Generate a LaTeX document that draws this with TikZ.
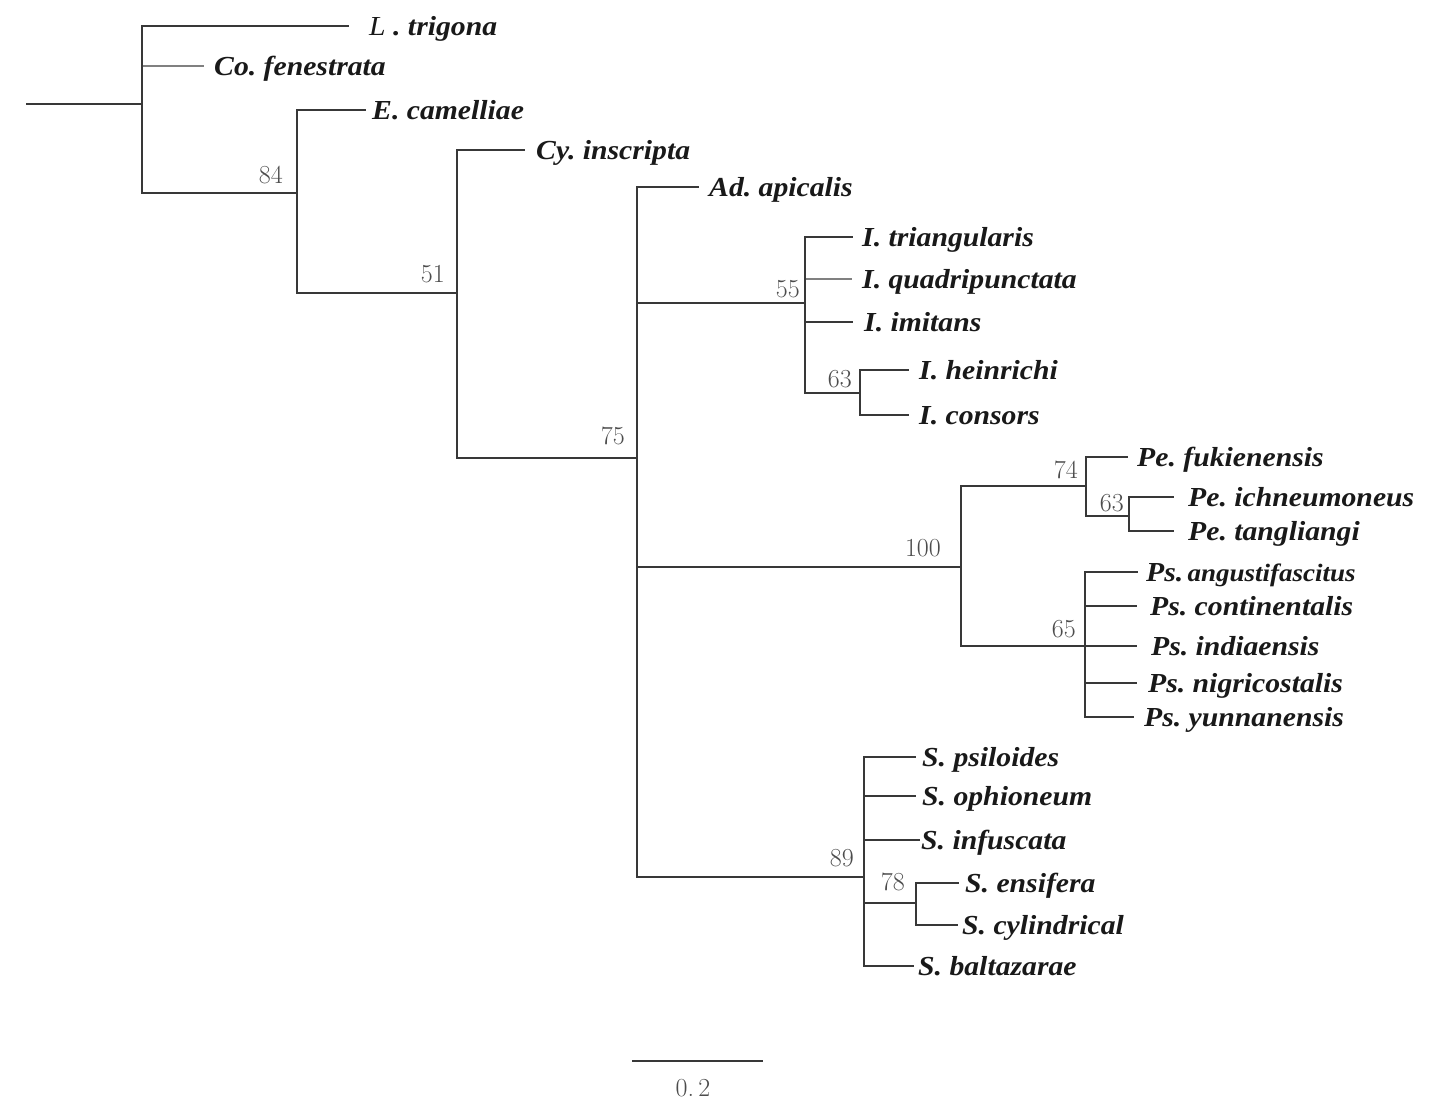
\documentclass[tikz,border=0pt]{standalone}
\usepackage{fontspec}
\newfontfamily\labfont[FakeStretch=1.08]{Liberation Serif}
\frenchspacing
\begin{document}
\begin{tikzpicture}[x=1pt,y=-1pt,
  br/.style={draw=black!78, line width=2.1pt, line cap=rect},
  lightbr/.style={draw=black!50, line width=1.2pt},
  leaf/.style={anchor=west, inner ysep=0pt, inner xsep=10pt, text height=18.2pt, text depth=0pt,
    font=\labfont\fontsize{27.5}{30}\selectfont\bfseries\itshape, text=black!90},
  bs/.style={anchor=south east, inner sep=0pt, text=black!70, font=\fontsize{26}{28}\selectfont}]
\useasboundingbox (0,0) rectangle (1451,1114);
% internal nodes
\coordinate (root) at (27,104);
\coordinate (A) at (142,104);
\coordinate (B) at (297,193);
\coordinate (C) at (457,293);
\coordinate (D) at (637,458);
\coordinate (I) at (805,303);
\coordinate (I2) at (860,393);
\coordinate (P) at (961,567);
\coordinate (Pe) at (1086,486);
\coordinate (Pe2) at (1129,516);
\coordinate (Ps) at (1085,646);
\coordinate (S) at (864,877);
\coordinate (S2) at (916,903);
% leaves
\node[leaf, inner xsep=21pt] (Ltri) at (348,26) {{\mdseries L} . trigona};
\node[leaf] (Cofen) at (204,66) {Co. fenestrata};
\node[leaf, inner xsep=7pt] (Ecam) at (365,110) {E. camelliae};
\node[leaf, inner xsep=12pt] (Cyins) at (524,150) {Cy. inscripta};
\node[leaf, inner xsep=11pt] (Adapi) at (698,187) {Ad. apicalis};
\node[leaf, inner xsep=10pt] (Itri) at (852,237) {I. triangularis};
\node[leaf, inner xsep=10pt] (Iqua) at (852,279) {I. quadripunctata};
\node[leaf, inner xsep=12pt] (Iimi) at (852,322) {I. imitans};
\node[leaf, inner xsep=11pt] (Ihei) at (908,370) {I. heinrichi};
\node[leaf, inner xsep=11pt] (Icon) at (908,415) {I. consors};
\node[leaf, inner xsep=10pt] (Pefuk) at (1127,457) {Pe. fukienensis};
\node[leaf, inner xsep=15pt] (Peich) at (1173,497) {Pe. ichneumoneus};
\node[leaf, inner xsep=15pt] (Petan) at (1173,531) {Pe. tangliangi};
\node[leaf, inner xsep=9pt] (Psang) at (1137,572) {Ps.{\fontsize{25}{28}\selectfont\,angustifascitus}};
\node[leaf, inner xsep=14pt] (Pscon) at (1136,606) {Ps. continentalis};
\node[leaf, inner xsep=15pt] (Psind) at (1136,646) {Ps. indiaensis};
\node[leaf, inner xsep=12pt] (Psnig) at (1136,683) {Ps. nigricostalis};
\node[leaf, inner xsep=11pt] (Psyun) at (1133,717) {Ps. yunnanensis};
\node[leaf, inner xsep=7pt] (Spsi) at (915,757) {S. psiloides};
\node[leaf, inner xsep=7pt] (Soph) at (915,796) {S. ophioneum};
\node[leaf, inner xsep=2pt] (Sinf) at (919,840) {S. infuscata};
\node[leaf, inner xsep=7pt] (Sens) at (958,883) {S. ensifera};
\node[leaf, inner xsep=5pt] (Scyl) at (957,925) {S. cylindrical};
\node[leaf, inner xsep=5pt] (Sbal) at (913,966) {S. baltazarae};
% light branches first
\draw[lightbr] (A) |- (Cofen.west);
\draw[lightbr] (I) |- (Iqua.west);
% branches
\draw[br] (root) -- (A);
\draw[br] (A) |- (Ltri.west);
\draw[br] (A) |- (B);
\draw[br] (B) |- (Ecam.west);
\draw[br] (B) |- (C);
\draw[br] (C) |- (Cyins.west);
\draw[br] (C) |- (D);
\draw[br] (D) |- (Adapi.west);
\draw[br] (D) |- (I);
\draw[br] (D) |- (P);
\draw[br] (D) |- (S);
\draw[br] (I) |- (Itri.west);
\draw[br] (I) |- (Iimi.west);
\draw[br] (I) |- (I2);
\draw[br] (I2) |- (Ihei.west);
\draw[br] (I2) |- (Icon.west);
\draw[br] (P) |- (Pe);
\draw[br] (P) |- (Ps);
\draw[br] (Pe) |- (Pefuk.west);
\draw[br] (Pe) |- (Pe2);
\draw[br] (Pe2) |- (Peich.west);
\draw[br] (Pe2) |- (Petan.west);
\draw[br] (Ps) |- (Psang.west);
\draw[br] (Ps) |- (Pscon.west);
\draw[br] (Ps) |- (Psind.west);
\draw[br] (Ps) |- (Psnig.west);
\draw[br] (Ps) |- (Psyun.west);
\draw[br] (S) |- (Spsi.west);
\draw[br] (S) |- (Soph.west);
\draw[br] (S) |- (Sinf.west);
\draw[br] (S) |- (S2);
\draw[br] (S) |- (Sbal.west);
\draw[br] (S2) |- (Sens.west);
\draw[br] (S2) |- (Scyl.west);
% bootstrap values
\node[bs] (b84) at (283,184) {84};
\node[bs] (b51) at (445,283) {51};
\node[bs] (b75) at (625,445) {75};
\node[bs] (b55) at (800,298) {55};
\node[bs] (b63a) at (852,388) {63};
\node[bs] (b100) at (941,557) {100};
\node[bs] (b74) at (1078,479) {74};
\node[bs] (b63b) at (1124,512) {63};
\node[bs] (b65) at (1076,638) {65};
\node[bs] (b89) at (854,867) {89};
\node[bs] (b78) at (905,891) {78};
% scale bar
\coordinate (sb1) at (632,1061);
\coordinate (sb2) at (763,1061);
\draw[br, line cap=butt] (sb1) -- (sb2);
\node[inner sep=0pt, text=black!70, font=\fontsize{26}{28}\selectfont] (sbl) at (693,1088) {0.\,2};
\end{tikzpicture}
\end{document}
